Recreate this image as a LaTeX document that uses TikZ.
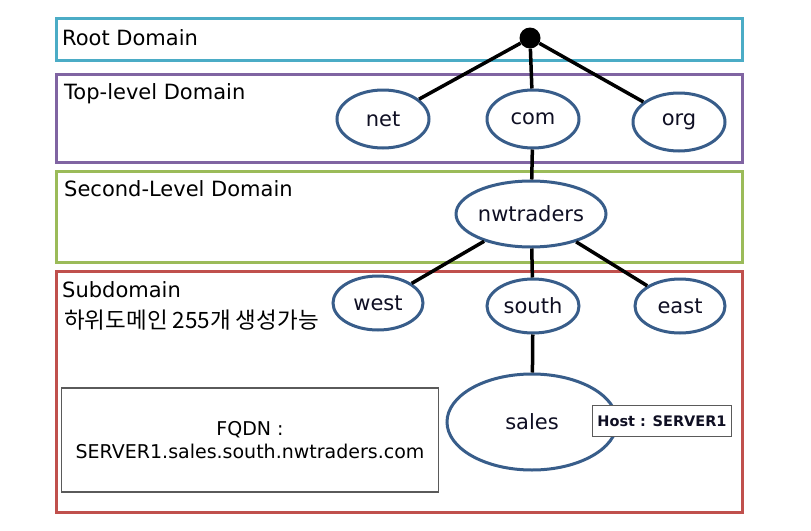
\documentclass[tikz,border=0pt]{standalone}
\usepackage{fontspec}
\setmainfont{DejaVu Sans}
\newfontfamily\krfont{Noto Sans CJK KR}
\usetikzlibrary{shapes.geometric}
\definecolor{cyanb}{RGB}{75,172,198}
\definecolor{purpb}{RGB}{128,100,162}
\definecolor{greenb}{RGB}{155,187,89}
\definecolor{redb}{RGB}{192,80,77}
\definecolor{ellb}{RGB}{56,93,138}
\definecolor{greyb}{RGB}{90,90,90}
\definecolor{txtc}{RGB}{15,15,35}
\tikzset{
  layer/.style={draw=#1, line width=3pt, fill=white},
  dom/.style={ellipse, draw=ellb, line width=3pt, fill=white, inner sep=0pt, text=txtc, font=\fontsize{21}{24}\selectfont},
  lbl/.style={anchor=west, font=\fontsize{21}{24}\selectfont, inner sep=0pt},
  conn/.style={line width=3.5pt, black},
}
\begin{document}
\begin{tikzpicture}[x=1pt,y=-1pt]
\useasboundingbox (0,0) rectangle (811,530);
% layers
\draw[layer=cyanb] (56,18) rectangle (742,60);
\draw[layer=purpb] (56,74) rectangle (742,162);
\draw[layer=greenb] (56,171) rectangle (742,262);
\draw[layer=redb] (56,271) rectangle (742,512);
\node[lbl] (tRoot) at (62,38) {Root Domain};
\node[lbl] (tTop) at (64,94) {Top-level Domain};
\node[lbl] (tSec) at (64,189) {Second-Level Domain};
\node[lbl] (tSub) at (62,290) {Subdomain};
\node[lbl, font=\krfont\fontsize{22.5}{26}\selectfont] (tKr) at (64,320) {하위도메인 255개 생성가능};
% nodes
\node[circle, fill=black, minimum size=21pt, inner sep=0pt] (root) at (530,38) {};
\node[dom, minimum width=92pt, minimum height=58pt] (net) at (383,119) {net};
\node[dom, minimum width=92pt, minimum height=58pt] (com) at (533,119) {com};
\node[dom, minimum width=92pt, minimum height=58pt] (org) at (679,122) {org};
\node[dom, minimum width=126pt, minimum height=66pt] (nw) at (531,214) {nwtraders};
\node[dom, minimum width=90pt, minimum height=54pt] (west) at (378,303) {west};
\node[dom, minimum width=92pt, minimum height=54pt] (south) at (533,306) {south};
\node[dom, minimum width=90pt, minimum height=54pt] (east) at (680,306) {east};
% connectors
\draw[conn] (root) -- (net);
\draw[conn] (root) -- (com);
\draw[conn] (root) -- (org);
\draw[conn] (com) -- (nw);
\draw[conn] (nw) -- (west);
\draw[conn] (nw) -- (south);
\draw[conn] (nw) -- (east);
\node[dom, minimum width=170pt, minimum height=96pt] (sales) at (532,422) {sales};
\draw[conn] (south) -- (sales);
\node[draw=greyb, line width=1.5pt, fill=white, minimum width=139pt, minimum height=31pt, inner sep=0pt, text=txtc, font=\bfseries\fontsize{14.5}{16}\selectfont] (host) at (662,421) {Host : SERVER1};
\node[draw=greyb, line width=1.5pt, fill=white, minimum width=377pt, minimum height=104pt, inner sep=0pt, align=center, font=\fontsize{19}{23}\selectfont] (fqdn) at (250,440) {FQDN :\\SERVER1.sales.south.nwtraders.com};
\end{tikzpicture}
\end{document}
